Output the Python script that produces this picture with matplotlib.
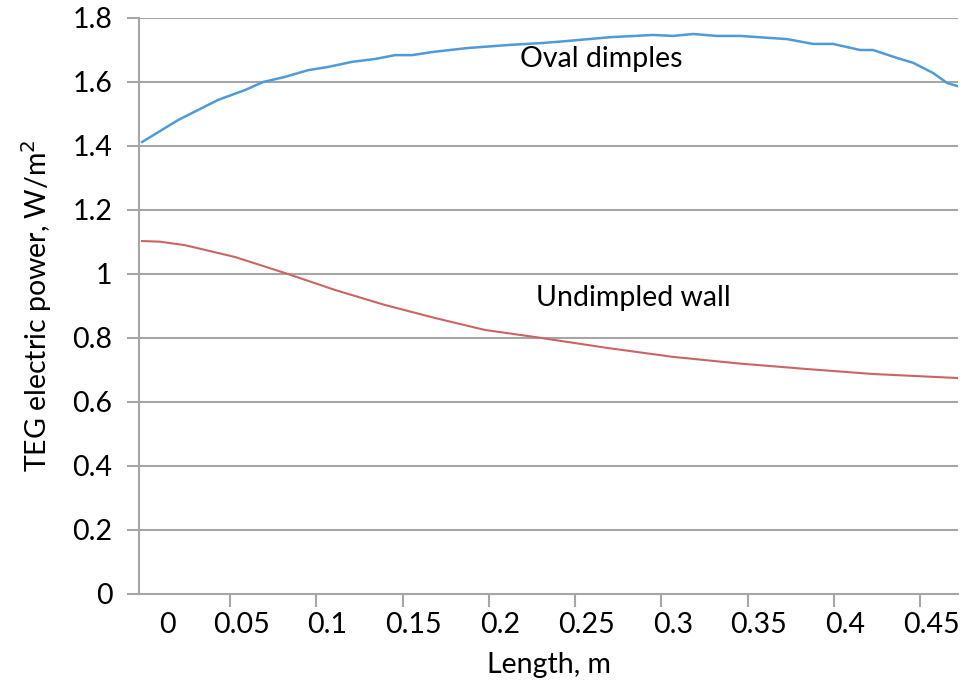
import matplotlib
matplotlib.use("Agg")
import matplotlib.pyplot as plt
import matplotlib.transforms as mtransforms

# Data
oval_x = [-0.0074, 0.0134, 0.0366, 0.0523, 0.0627, 0.0754, 0.0888, 0.1003, 0.1143,
          0.1276, 0.1392, 0.149, 0.1612, 0.1809, 0.2058, 0.2249, 0.2388, 0.2637,
          0.2886, 0.3002, 0.3118, 0.3257, 0.339, 0.3663, 0.3813, 0.3929, 0.4086,
          0.4161, 0.43, 0.4393, 0.4509, 0.459, 0.4648]
oval_y = [1.4125, 1.481, 1.544, 1.575, 1.600, 1.616, 1.637, 1.647, 1.663,
          1.672, 1.684, 1.684, 1.694, 1.706, 1.716, 1.722, 1.728, 1.740,
          1.747, 1.744, 1.750, 1.744, 1.744, 1.734, 1.719, 1.719, 1.700,
          1.700, 1.675, 1.660, 1.628, 1.597, 1.5875]

flat_x = [-0.0074, 0.003, 0.0175, 0.0465, 0.0754, 0.1044, 0.1334, 0.1623, 0.1913,
          0.2203, 0.262, 0.3002, 0.339, 0.3779, 0.4161, 0.4648]
flat_y = [1.103, 1.101, 1.090, 1.053, 1.003, 0.950, 0.903, 0.8625, 0.825,
          0.803, 0.769, 0.741, 0.720, 0.703, 0.6875, 0.675]

x_labels = [0, 0.05, 0.1, 0.15, 0.2, 0.25, 0.3, 0.35, 0.4, 0.45]
y_ticks = [0, 0.2, 0.4, 0.6, 0.8, 1.0, 1.2, 1.4, 1.6, 1.8]
y_labels = ["0", "0.2", "0.4", "0.6", "0.8", "1", "1.2", "1.4", "1.6", "1.8"]

plt.rcParams['font.family'] = ['Lato', 'DejaVu Sans']
FS = 20.5

fig = plt.figure(figsize=(9.63, 6.88), dpi=100)
ax = fig.add_axes([139 / 963, 1 - 594 / 688, (958 - 139) / 963, (594 - 18) / 688])

grid_c = '#a6a6a6'
ax.set_xlim(-0.0092, 0.4653)
ax.set_ylim(0, 1.8)

for y in y_ticks[1:]:
    ax.axhline(y, color=grid_c, lw=1.5, zorder=1)

ax.plot(oval_x, oval_y, color='#4f9ad8', lw=1.8, zorder=3)
ax.plot(flat_x, flat_y, color='#cc6464', lw=1.5, zorder=3)

for s in ['top', 'right']:
    ax.spines[s].set_visible(False)
for s in ['left', 'bottom']:
    ax.spines[s].set_color(grid_c)
    ax.spines[s].set_linewidth(1.5)

ax.set_yticks(y_ticks)
ax.set_yticklabels(y_labels)
ax.tick_params(axis='y', length=9, width=1.5, color=grid_c, labelsize=FS, pad=10)

# x labels (no marks) and tick marks between them
ax.set_xticks(x_labels)
ax.set_xticklabels([f"{v:g}" for v in x_labels])
ax.tick_params(axis='x', which='major', length=0, labelsize=FS, pad=13)
ax.set_xticks([v - 0.0065 for v in x_labels[1:]], minor=True)
ax.tick_params(axis='x', which='minor', length=9, width=1.5, color=grid_c)
lab0 = ax.get_xticklabels()[0]
lab0.set_transform(lab0.get_transform() + mtransforms.ScaledTranslation(0.13, 0, fig.dpi_scale_trans))

ax.set_xlabel("Length, m", fontsize=FS, labelpad=10)
ax.set_ylabel("TEG electric power, W/m$^2$", fontsize=FS, labelpad=13)

ax.text(0.2585, 1.672, "Oval dimples", fontsize=FS, ha='center', va='center')
ax.text(0.277, 0.925, "Undimpled wall", fontsize=FS, ha='center', va='center')

fig.savefig("out.png", dpi=100)
